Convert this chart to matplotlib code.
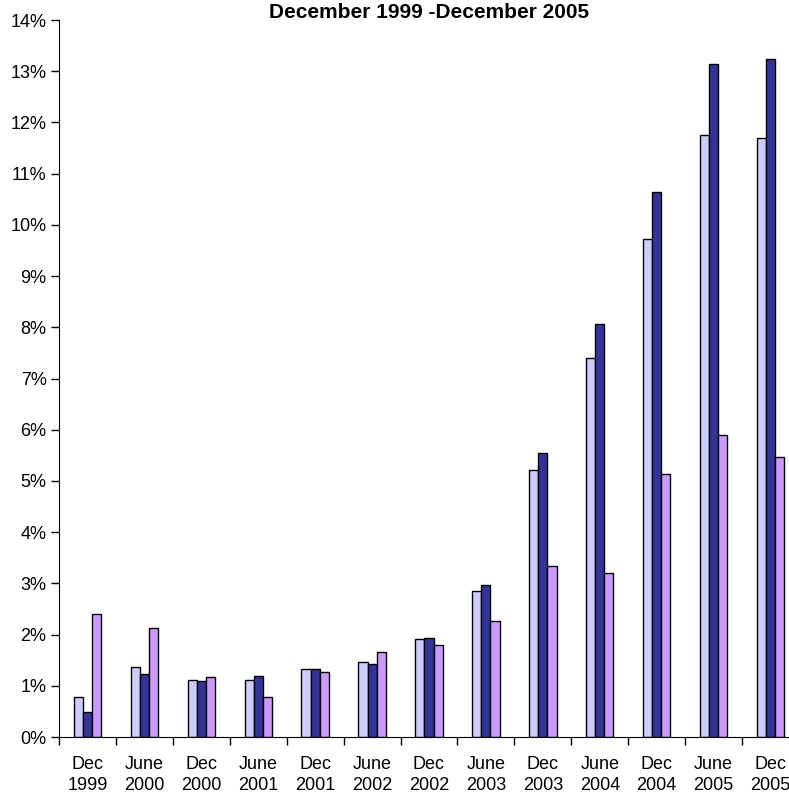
import matplotlib
matplotlib.use('Agg')
import matplotlib.pyplot as plt
import matplotlib.ticker as mticker
import numpy as np

plt.rcParams['font.family'] = ['Liberation Sans', 'DejaVu Sans']

categories = ['Dec\n1999', 'June\n2000', 'Dec\n2000', 'June\n2001', 'Dec\n2001',
              'June\n2002', 'Dec\n2002', 'June\n2003', 'Dec\n2003', 'June\n2004',
              'Dec\n2004', 'June\n2005', 'Dec\n2005']
series_a = [0.78, 1.37, 1.11, 1.12, 1.32, 1.47, 1.91, 2.85, 5.22, 7.40, 9.72, 11.76, 11.70]
series_b = [0.49, 1.23, 1.09, 1.19, 1.33, 1.43, 1.94, 2.97, 5.55, 8.07, 10.65, 13.14, 13.23]
series_c = [2.40, 2.13, 1.17, 0.79, 1.26, 1.66, 1.80, 2.27, 3.34, 3.21, 5.13, 5.89, 5.47]
colors = ['#CCCCFF', '#333399', '#CC99FF']

fig = plt.figure(figsize=(7.89, 7.96), dpi=100)
ax = fig.add_axes([59 / 789, 1 - 737 / 796, 740 / 789, 717 / 796])

x = np.arange(len(categories))
w = 0.16
for i, (vals, c) in enumerate(zip([series_a, series_b, series_c], colors)):
    ax.bar(x + (i - 1) * w, vals, width=w, color=c, edgecolor='black', linewidth=1.0)

ax.set_xlim(-0.5, len(categories) - 0.5)
ax.set_ylim(0, 14)
ax.set_yticks(np.arange(0, 15, 1))
ax.yaxis.set_major_formatter(mticker.FuncFormatter(lambda v, _: f'{v:.0f}%'))
ax.set_xticks(x)
ax.set_xticklabels(categories, fontsize=13, linespacing=1.25)
ax.set_xticks(np.arange(-0.5, len(categories), 1), minor=True)
ax.tick_params(axis='x', which='major', length=0, pad=14)
ax.tick_params(axis='x', which='minor', length=6, direction='out', width=1)
ax.tick_params(axis='y', labelsize=13, length=6, direction='out', width=1, pad=3)
ax.spines['top'].set_visible(False)
ax.spines['right'].set_visible(False)

# title sits just above the plot area, centred on the axes
fig.text((59 + 370) / 789, 1 - 18 / 796, 'December 1999 -December 2005',
         fontsize=15, fontweight='bold', ha='center', va='baseline')

fig.savefig('out.png', dpi=100)
